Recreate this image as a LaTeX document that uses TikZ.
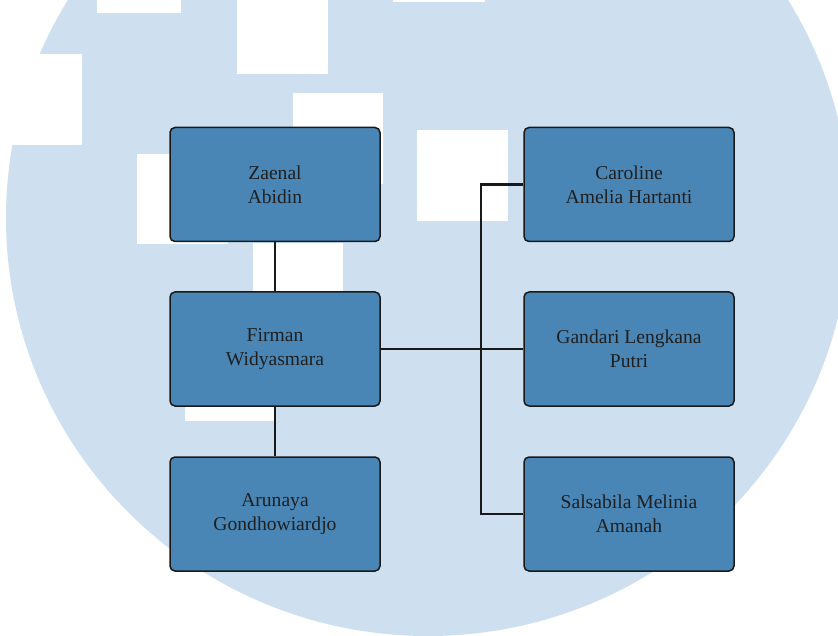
\documentclass[tikz,border=0pt]{standalone}
\usepackage{fontspec}
\setmainfont{Liberation Serif}
\definecolor{circleblue}{HTML}{CEE0EF}
\definecolor{boxblue}{HTML}{4A86B5}
\tikzset{
  person/.style={draw=black!90,line width=1.5pt,fill=boxblue,rounded corners=5pt,
    minimum width=210pt,minimum height=114pt,align=center,text=black!88,
    font=\fontsize{19.6}{24}\selectfont},
  link/.style={line width=2.3pt,black!90},
  patch/.style={fill=white}
}
\begin{document}
\begin{tikzpicture}[x=1pt,y=-1pt]
        % Background
        \clip (0,0) rectangle (838,636);
        \fill[white] (0,0) rectangle (838,636);
        \fill[circleblue] (428,218) ellipse [x radius=422,y radius=418];
        \foreach \xa/\ya/\xb/\yb in {97/-5/181/13,237/-20/328/74,393/-10/485/1.7,-5/54/82/145,
            293/93/383/184,417/130/508/221,137/154/228/244,253/243/343/334,185/330/275/421} {
          \fill[patch] (\xa,\ya) rectangle (\xb,\yb);
        }
        % People
        \node[person] (zaenal) at (275,184.5) {Zaenal\\Abidin};
        \node[person] (firman) at (275,349) {Firman\\Widyasmara};
        \node[person] (arunaya) at (275,514) {Arunaya\\Gondhowiardjo};
        \node[person] (caroline) at (629,184.5) {Caroline\\Amelia Hartanti};
        \node[person] (gandari) at (629,349) {Gandari Lengkana\\Putri};
        \node[person] (salsabila) at (629,514) {Salsabila Melinia\\Amanah};
        % Links
        \coordinate (bus) at (481,349);
        \draw[link] (zaenal) -- (firman);
        \draw[link] (firman) -- (arunaya);
        \draw[link] (firman) -- (gandari);
        \draw[link] (caroline.west) -| (bus) |- (salsabila.west);
\end{tikzpicture}
\end{document}
